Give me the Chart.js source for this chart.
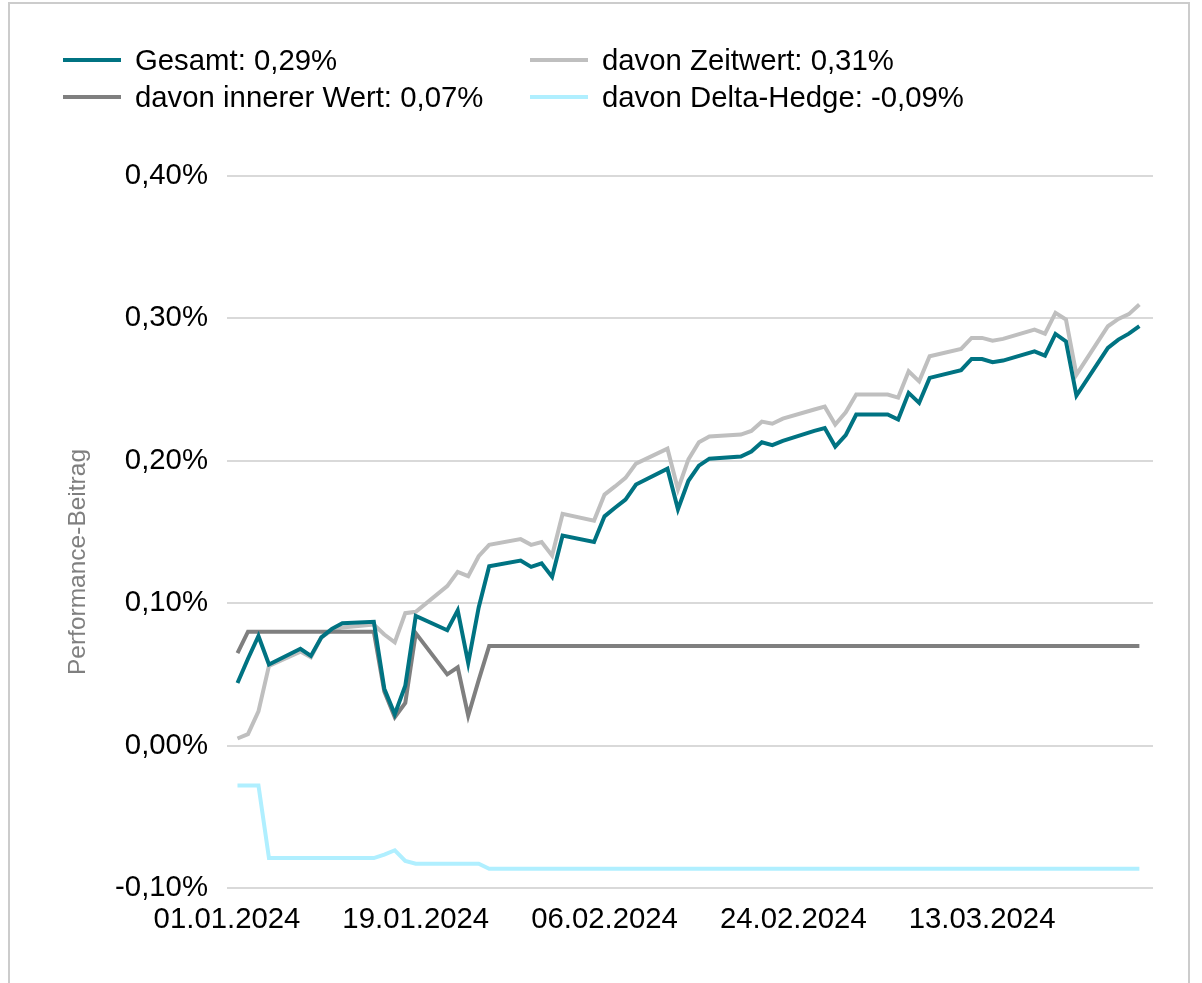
<!DOCTYPE html>
<html>
<head>
<meta charset="utf-8">
<script src="https://cdn.jsdelivr.net/npm/chart.js@4.4.1/dist/chart.umd.min.js"></script>
<style>
  html, body { margin:0; padding:0; background:#fff; overflow:hidden; }
  #wrap { position:relative; width:1202px; height:983px; overflow:hidden; }
  #frame { position:absolute; left:8px; top:2px; width:1182px; height:1010px; border:2px solid #cccccc; box-sizing:border-box; }
  #chart { position:absolute; left:0; top:0; }
  .legend-item { position:absolute; display:flex; align-items:center; height:34px; line-height:34px;
                 font-family:"Liberation Sans", Arial, sans-serif; font-size:29.33px; color:#000; white-space:nowrap; }
  .legend-item .swatch { width:58px; height:4px; margin-right:14px; flex:none; }
</style>
</head>
<body>
<div id="wrap">
  <div id="frame"></div>
  <canvas id="chart" width="1202" height="983"></canvas>
  <div id="legend"></div>
</div>
<script>
// Handelstage (x-Werte)
const dates = [
  '02.01.2024','03.01.2024','04.01.2024','05.01.2024',
  '08.01.2024','09.01.2024','10.01.2024','11.01.2024','12.01.2024',
  '15.01.2024','16.01.2024','17.01.2024','18.01.2024','19.01.2024',
  '22.01.2024','23.01.2024','24.01.2024','25.01.2024','26.01.2024',
  '29.01.2024','30.01.2024','31.01.2024','01.02.2024','02.02.2024',
  '05.02.2024','06.02.2024','07.02.2024','08.02.2024','09.02.2024',
  '12.02.2024','13.02.2024','14.02.2024','15.02.2024','16.02.2024',
  '19.02.2024','20.02.2024','21.02.2024','22.02.2024','23.02.2024',
  '26.02.2024','27.02.2024','28.02.2024','29.02.2024','01.03.2024',
  '04.03.2024','05.03.2024','06.03.2024','07.03.2024','08.03.2024',
  '11.03.2024','12.03.2024','13.03.2024','14.03.2024','15.03.2024',
  '18.03.2024','19.03.2024','20.03.2024','21.03.2024','22.03.2024',
  '25.03.2024','26.03.2024','27.03.2024','28.03.2024'
];

// Werte in %
const gesamt = [
  0.044, 0.061, 0.077, 0.057,
  0.068, 0.063, 0.076, 0.082, 0.086,
  0.087, 0.040, 0.022, 0.042, 0.091,
  0.081, 0.095, 0.058, 0.097, 0.126,
  0.130, 0.1255, 0.128, 0.1185, 0.1475,
  0.143, 0.161, 0.167, 0.1728, 0.1833,
  0.1945, 0.166, 0.186, 0.1966, 0.2015,
  0.203, 0.2065, 0.213, 0.211, 0.214,
  0.221, 0.223, 0.210, 0.218, 0.2325,
  0.2325, 0.229, 0.2477, 0.2407, 0.2582,
  0.2636, 0.2715, 0.2715, 0.2692, 0.2704,
  0.2769, 0.2739, 0.2891, 0.2839, 0.2458,
  0.2793, 0.2851, 0.2893, 0.2945
];
const innererWert = [
  0.065, 0.080, 0.080, 0.080,
  0.080, 0.080, 0.080, 0.080, 0.080,
  0.080, 0.038, 0.020, 0.030, 0.079,
  0.050, 0.055, 0.021, 0.046, 0.070,
  0.070, 0.070, 0.070, 0.070, 0.070,
  0.070, 0.070, 0.070, 0.070, 0.070,
  0.070, 0.070, 0.070, 0.070, 0.070,
  0.070, 0.070, 0.070, 0.070, 0.070,
  0.070, 0.070, 0.070, 0.070, 0.070,
  0.070, 0.070, 0.070, 0.070, 0.070,
  0.070, 0.070, 0.070, 0.070, 0.070,
  0.070, 0.070, 0.070, 0.070, 0.070,
  0.070, 0.070, 0.070, 0.070
];
const zeitwert = [
  0.005, 0.008, 0.024, 0.056,
  0.066, 0.062, 0.076, 0.081, 0.083,
  0.085, 0.078, 0.0725, 0.093, 0.094,
  0.112, 0.122, 0.119, 0.133, 0.141,
  0.145, 0.141, 0.143, 0.1335, 0.1627,
  0.158, 0.1763, 0.182, 0.188, 0.198,
  0.2085, 0.180, 0.201, 0.213, 0.217,
  0.2184, 0.221, 0.2275, 0.226, 0.2296,
  0.236, 0.238, 0.2255, 0.234, 0.2465,
  0.2465, 0.2444, 0.2629, 0.2558, 0.2734,
  0.2786, 0.2863, 0.2863, 0.2844, 0.2856,
  0.2921, 0.2893, 0.3039, 0.2992, 0.2605,
  0.2945, 0.2996, 0.303, 0.3097
];
const deltaHedge = [
  -0.028, -0.028, -0.028, -0.079,
  -0.079, -0.079, -0.079, -0.079, -0.079,
  -0.079, -0.0765, -0.0735, -0.081, -0.083,
  -0.083, -0.083, -0.083, -0.083, -0.0865,
  -0.0865, -0.0865, -0.0865, -0.0865, -0.0865,
  -0.0865, -0.0865, -0.0865, -0.0865, -0.0865,
  -0.0865, -0.0865, -0.0865, -0.0865, -0.0865,
  -0.0865, -0.0865, -0.0865, -0.0865, -0.0865,
  -0.0865, -0.0865, -0.0865, -0.0865, -0.0865,
  -0.0865, -0.0865, -0.0865, -0.0865, -0.0865,
  -0.0865, -0.0865, -0.0865, -0.0865, -0.0865,
  -0.0865, -0.0865, -0.0865, -0.0865, -0.0865,
  -0.0865, -0.0865, -0.0865, -0.0865
];

const tickLabels = ['01.01.2024','19.01.2024','06.02.2024','24.02.2024','13.03.2024'];
const seriesLabels = ['Gesamt: 0,29%','davon innerer Wert: 0,07%','davon Zeitwert: 0,31%','davon Delta-Hedge: -0,09%'];
const seriesColors = ['#007382','#7f7f7f','#bfbfbf','#b0efff'];
const yTitle = 'Performance-Beitrag';

const FONT = '"Liberation Sans", Arial, sans-serif';

// Tage seit 01.01.2024
function dayIndex(s){
  const [d,m,y] = s.split('.');
  return (Date.UTC(+y, +m-1, +d) - Date.UTC(2024,0,1)) / 86400000;
}
function pts(values){
  return values.map((v,i) => ({ x: dayIndex(dates[i]), y: v }));
}

const axisTitlePlugin = {
  id: 'axisTitle',
  afterDraw(chart){
    const ctx = chart.ctx;
    ctx.save();
    ctx.translate(78, 562);
    ctx.rotate(-Math.PI/2);
    ctx.font = '24.5px ' + FONT;
    ctx.fillStyle = '#7f7f7f';
    ctx.textAlign = 'center';
    ctx.textBaseline = 'middle';
    ctx.fillText(yTitle, 0, 0);
    ctx.restore();
  }
};

const seriesData = [gesamt, innererWert, zeitwert, deltaHedge];

const chart = new Chart(document.getElementById('chart'), {
  type: 'line',
  data: {
    datasets: seriesData.map((vals,i) => ({
      label: seriesLabels[i],
      data: pts(vals),
      borderColor: seriesColors[i],
      backgroundColor: seriesColors[i],
      borderWidth: 4,
      pointRadius: 0,
      tension: 0,
      fill: false
    }))
  },
  options: {
    responsive: false,
    animation: false,
    events: [],
    layout: { padding: { left: 0, right: 49, top: 176, bottom: 0 } },
    plugins: { legend: { display: false }, tooltip: { enabled: false } },
    scales: {
      x: {
        type: 'linear',
        min: 0,
        max: 88.3,
        grid: { display: false },
        border: { display: false },
        afterBuildTicks(scale){
          scale.ticks = tickLabels.map(l => ({ value: dayIndex(l) }));
        },
        afterFit(scale){ scale.height = 95; },
        ticks: {
          autoSkip: false,
          maxRotation: 0,
          padding: 6,
          color: '#000',
          font: { family: FONT, size: 29.33 },
          callback: (v) => tickLabels.find(l => dayIndex(l) === v) || ''
        }
      },
      y: {
        min: -0.1,
        max: 0.4,
        grid: { color: '#d9d9d9', lineWidth: 2, drawTicks: false },
        border: { display: false },
        afterFit(scale){ scale.width = 227; },
        ticks: {
          stepSize: 0.1,
          padding: 19,
          color: '#000',
          font: { family: FONT, size: 29.33 },
          callback: (v) => v.toFixed(2).replace('.', ',') + '%'
        }
      }
    }
  },
  plugins: [axisTitlePlugin]
});

// Legende (zwei Spalten)
const legendPos = [
  { left: 63,  top: 43 },  // Gesamt
  { left: 63,  top: 80 },  // innerer Wert
  { left: 530, top: 43 },  // Zeitwert
  { left: 530, top: 80 }   // Delta-Hedge
];
const legendEl = document.getElementById('legend');
chart.data.datasets.forEach((ds, i) => {
  const item = document.createElement('div');
  item.className = 'legend-item';
  item.style.left = legendPos[i].left + 'px';
  item.style.top = legendPos[i].top + 'px';
  item.innerHTML = `<span class="swatch" style="background:${ds.borderColor}"></span><span>${ds.label}</span>`;
  legendEl.appendChild(item);
});
</script>
</body>
</html>
